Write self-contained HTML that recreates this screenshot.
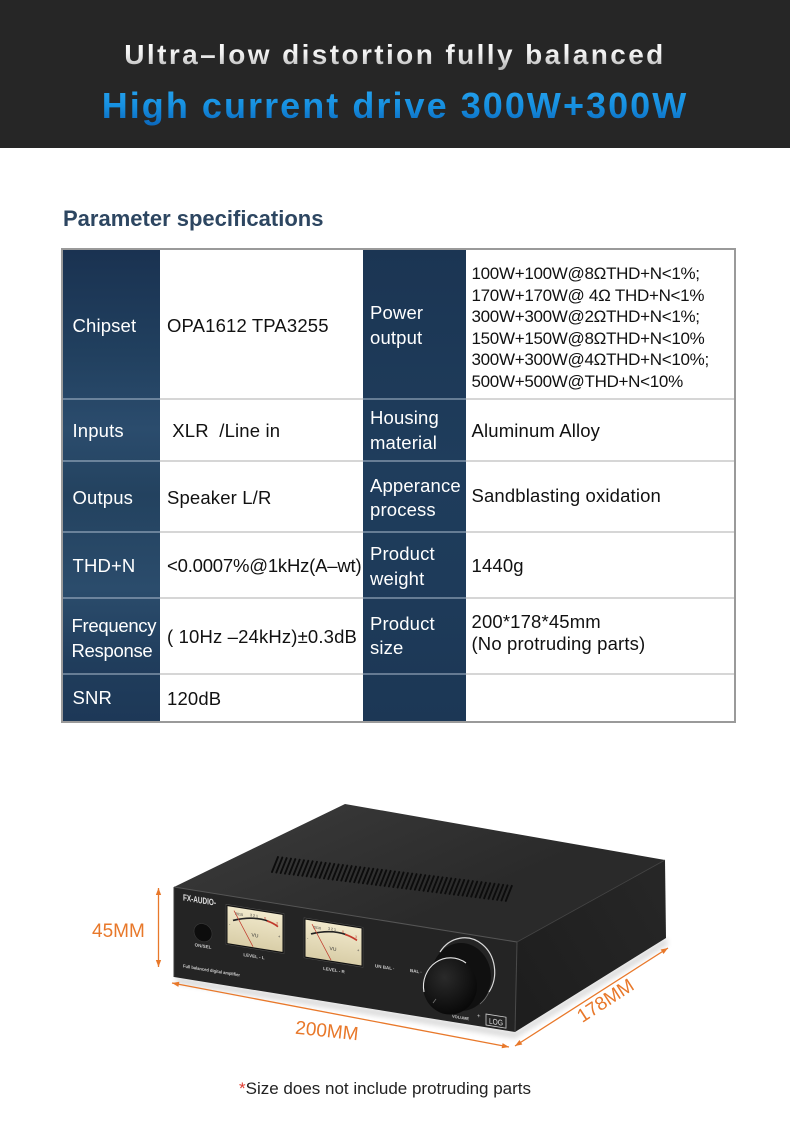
<!DOCTYPE html>
<html>
<head>
<meta charset="utf-8">
<style>
*{margin:0;padding:0;box-sizing:border-box;}
html,body{width:790px;height:1132px;background:#fff;overflow:hidden;}
body{position:relative;font-family:"Liberation Sans",Arial,sans-serif;}
.abs{position:absolute;}
.hdr{left:0;top:0;width:790px;height:148px;background:#262626;}
.h1,.h2{left:0;width:790px;text-align:center;font-weight:bold;white-space:nowrap;}
.h1{top:38px;height:34px;line-height:34px;font-size:28px;letter-spacing:2.4px;
  background:linear-gradient(180deg,#ffffff 0%,#f2f2f2 45%,#a9a9a9 100%);
  -webkit-background-clip:text;background-clip:text;color:transparent;}
.h2{top:84px;height:44px;line-height:44px;font-size:36px;letter-spacing:2.05px;
  background:linear-gradient(180deg,#2aa6f0 0%,#1690e0 50%,#0a62b8 100%);
  -webkit-background-clip:text;background-clip:text;color:transparent;}
.title{left:63px;top:208px;line-height:22px;font-size:22px;font-weight:bold;color:#2d4661;white-space:nowrap;}
.tbl{left:61px;top:248px;width:675px;height:475px;border:2px solid #9a9a9a;background:#fff;}
.hl{height:2px;background:#d6d6d6;left:63px;width:671px;}
.b1{left:63px;top:250px;width:97px;height:471px;
  background:linear-gradient(180deg,#1a3251 0%,#21405f 22%,#2b4c6d 38%,#23425f 52%,#2b4c6c 72%,#203d5c 88%,#1d3857 100%);}
.b2{left:363px;top:250px;width:103px;height:471px;
  background:linear-gradient(180deg,#1b3553 0%,#1f3d5c 45%,#1e3b5a 70%,#1c3755 100%);}
.bl{height:2px;background:rgba(190,205,220,0.45);}
.c{position:absolute;display:flex;align-items:center;font-size:18.5px;letter-spacing:0.15px;white-space:pre;line-height:24.5px;}
.lab{color:#fff;}
.val{color:#111;}
.pw{left:471.5px;top:263px;font-size:17px;letter-spacing:-0.3px;line-height:21.5px;color:#111;white-space:pre;}
.foot{left:239px;top:1079px;font-size:17px;line-height:20px;color:#222;white-space:nowrap;}
.foot span{color:#e03a2f;}
</style>
</head>
<body>
<div class="abs hdr"></div>
<div class="abs h1">Ultra–low distortion fully balanced</div>
<div class="abs h2">High current drive 300W+300W</div>

<div class="abs title">Parameter specifications</div>

<div class="abs tbl"></div>
<div class="abs hl" style="top:398px"></div>
<div class="abs hl" style="top:460px"></div>
<div class="abs hl" style="top:531px"></div>
<div class="abs hl" style="top:597px"></div>
<div class="abs hl" style="top:673px"></div>
<div class="abs b1"></div>
<div class="abs b2"></div>
<div class="abs bl" style="left:63px;width:97px;top:398px"></div>
<div class="abs bl" style="left:63px;width:97px;top:460px"></div>
<div class="abs bl" style="left:63px;width:97px;top:531px"></div>
<div class="abs bl" style="left:63px;width:97px;top:597px"></div>
<div class="abs bl" style="left:63px;width:97px;top:673px"></div>
<div class="abs bl" style="left:363px;width:103px;top:398px"></div>
<div class="abs bl" style="left:363px;width:103px;top:460px"></div>
<div class="abs bl" style="left:363px;width:103px;top:531px"></div>
<div class="abs bl" style="left:363px;width:103px;top:597px"></div>
<div class="abs bl" style="left:363px;width:103px;top:673px"></div>

<!-- Row 1 -->
<div class="c lab" style="left:63px;top:250px;width:97px;height:148px;padding-left:9.5px;padding-top:4px">Chipset</div>
<div class="c val" style="left:160px;top:250px;width:203px;height:148px;padding-left:7px;padding-top:4px">OPA1612 TPA3255</div>
<div class="c lab" style="left:363px;top:250px;width:103px;height:148px;padding-left:7px;padding-top:3px">Power
output</div>
<div class="abs pw">100W+100W@8ΩTHD+N&lt;1%;
170W+170W@ 4Ω THD+N&lt;1%
300W+300W@2ΩTHD+N&lt;1%;
150W+150W@8ΩTHD+N&lt;10%
300W+300W@4ΩTHD+N&lt;10%;
500W+500W@THD+N&lt;10%</div>

<!-- Row 2 -->
<div class="c lab" style="left:63px;top:400px;width:97px;height:60px;padding-left:9.5px;padding-top:3px">Inputs</div>
<div class="c val" style="left:160px;top:400px;width:203px;height:60px;padding-left:7px;padding-top:3px"> XLR  /Line in</div>
<div class="c lab" style="left:363px;top:400px;width:103px;height:60px;padding-left:7px;padding-top:1px">Housing
material</div>
<div class="c val" style="left:466px;top:400px;width:268px;height:60px;padding-left:5.5px;padding-top:3px">Aluminum Alloy</div>

<!-- Row 3 -->
<div class="c lab" style="left:63px;top:462px;width:97px;height:69px;padding-left:9.5px;padding-top:3px">Outpus</div>
<div class="c val" style="left:160px;top:462px;width:203px;height:69px;padding-left:7px;padding-top:3px">Speaker L/R</div>
<div class="c lab" style="left:363px;top:462px;width:103px;height:69px;padding-left:7px;padding-top:3px">Apperance
process</div>
<div class="c val" style="left:466px;top:462px;width:268px;height:69px;padding-left:5.5px;padding-top:0px">Sandblasting oxidation</div>

<!-- Row 4 -->
<div class="c lab" style="left:63px;top:533px;width:97px;height:64px;padding-left:9.5px;padding-top:3px">THD+N</div>
<div class="c val" style="left:160px;top:533px;width:203px;height:64px;padding-left:7px;padding-top:3px;letter-spacing:-0.2px">&lt;0.0007%@1kHz(A–wt)</div>
<div class="c lab" style="left:363px;top:533px;width:103px;height:64px;padding-left:7px;padding-top:3px">Product
weight</div>
<div class="c val" style="left:466px;top:533px;width:268px;height:64px;padding-left:5.5px;padding-top:3px">1440g</div>

<!-- Row 5 -->
<div class="c lab" style="left:63px;top:599px;width:97px;height:74px;padding-left:8.5px;padding-top:5px;letter-spacing:-0.3px">Frequency
Response</div>
<div class="c val" style="left:160px;top:599px;width:203px;height:74px;padding-left:7px;padding-top:3px">( 10Hz –24kHz)±0.3dB</div>
<div class="c lab" style="left:363px;top:599px;width:103px;height:74px;padding-left:7px;padding-top:0px">Product
size</div>
<div class="c val" style="left:466px;top:599px;width:268px;height:74px;padding-left:5.5px;padding-bottom:6px;line-height:22px">200*178*45mm
(No protruding parts)</div>

<!-- Row 6 -->
<div class="c lab" style="left:63px;top:675px;width:97px;height:46px;padding-left:9.5px;padding-top:0px">SNR</div>
<div class="c val" style="left:160px;top:675px;width:203px;height:46px;padding-left:7px;padding-top:3px">120dB</div>

<!-- Product illustration -->
<svg class="abs" style="left:0;top:780px" width="790" height="300" viewBox="0 780 790 300" xmlns="http://www.w3.org/2000/svg">
  <defs>
    <linearGradient id="topg" x1="345" y1="804" x2="400" y2="930" gradientUnits="userSpaceOnUse">
      <stop offset="0" stop-color="#363636"/>
      <stop offset="1" stop-color="#2a2a2a"/>
    </linearGradient>
    <linearGradient id="sideg" x1="515" y1="990" x2="666" y2="900" gradientUnits="userSpaceOnUse">
      <stop offset="0" stop-color="#1e1e1e"/>
      <stop offset="1" stop-color="#262626"/>
    </linearGradient>
    <linearGradient id="cream" x1="0" y1="0" x2="0" y2="1">
      <stop offset="0" stop-color="#f1e9cc"/>
      <stop offset="1" stop-color="#d9cea8"/>
    </linearGradient>
    <radialGradient id="knobg" cx="0.4" cy="0.35" r="0.7">
      <stop offset="0" stop-color="#2a2a2a"/>
      <stop offset="1" stop-color="#070707"/>
    </radialGradient>
    <filter id="blur" x="-20%" y="-50%" width="140%" height="200%"><feGaussianBlur stdDeviation="3"/></filter>
    <marker id="ah" viewBox="0 0 10 10" refX="10" refY="5" markerWidth="9" markerHeight="7" orient="auto-start-reverse" markerUnits="userSpaceOnUse">
      <path d="M0 1.2 L10 5 L0 8.8 z" fill="#e8782a"/>
    </marker>
  </defs>

  <!-- shadow -->
  <polygon points="176,977 515,1032 666,938 668,944 515,1038 176,983" fill="#000" opacity="0.16" filter="url(#blur)"/>

  <!-- top face -->
  <polygon points="174,887 345,804 665,860 517,942" fill="url(#topg)"/>
  <!-- right side -->
  <polygon points="517,942 665,860 666,938 515,1032" fill="url(#sideg)"/>
  <!-- front panel -->
  <polygon points="174,887 517,942 515,1032 174,977" fill="#242424"/>
  <line x1="174" y1="887" x2="517" y2="942" stroke="#555" stroke-width="1"/>
  <line x1="517" y1="942" x2="515" y2="1032" stroke="#4a4a4a" stroke-width="1"/>
  <line x1="174" y1="887" x2="174" y2="977" stroke="#3c3c3c" stroke-width="1"/>
  <line x1="517" y1="942" x2="665" y2="860" stroke="#444" stroke-width="0.8"/>

  <!-- vent slots -->
  <path d="M272 872l6-15m-1.67 15.535l6-15m-1.67 15.535l6-15m-1.67 15.535l6-15m-1.67 15.535l6-15m-1.67 15.535l6-15m-1.67 15.535l6-15m-1.67 15.535l6-15m-1.67 15.535l6-15m-1.67 15.535l6-15m-1.67 15.535l6-15m-1.67 15.535l6-15m-1.67 15.535l6-15m-1.67 15.535l6-15m-1.67 15.535l6-15m-1.67 15.535l6-15m-1.67 15.535l6-15m-1.67 15.535l6-15m-1.67 15.535l6-15m-1.67 15.535l6-15m-1.67 15.535l6-15m-1.67 15.535l6-15m-1.67 15.535l6-15m-1.67 15.535l6-15m-1.67 15.535l6-15m-1.67 15.535l6-15m-1.67 15.535l6-15m-1.67 15.535l6-15m-1.67 15.535l6-15m-1.67 15.535l6-15m-1.67 15.535l6-15m-1.67 15.535l6-15m-1.67 15.535l6-15m-1.67 15.535l6-15m-1.67 15.535l6-15m-1.67 15.535l6-15m-1.67 15.535l6-15m-1.67 15.535l6-15m-1.67 15.535l6-15m-1.67 15.535l6-15m-1.67 15.535l6-15m-1.67 15.535l6-15m-1.67 15.535l6-15m-1.67 15.535l6-15m-1.67 15.535l6-15m-1.67 15.535l6-15m-1.67 15.535l6-15m-1.67 15.535l6-15m-1.67 15.535l6-15m-1.67 15.535l6-15m-1.67 15.535l6-15m-1.67 15.535l6-15m-1.67 15.535l6-15m-1.67 15.535l6-15m-1.67 15.535l6-15" stroke="#0c0c0c" stroke-width="1.9" stroke-linecap="round" fill="none"/>

  <!-- front panel contents (skewed plane) -->
  <g transform="matrix(1,0.1603,0,1,174,887)" font-family="Liberation Sans, Arial, sans-serif">
    <text x="9" y="12" font-size="9" font-weight="bold" fill="#e0e0e0" textLength="33" lengthAdjust="spacingAndGlyphs">FX-AUDIO-</text>
    <circle cx="29" cy="41" r="9" fill="#0d0d0d" stroke="#3a3a3a" stroke-width="0.6"/>
    <text x="29" y="56" font-size="4.5" font-weight="bold" fill="#c8c8c8" text-anchor="middle">ON/SEL</text>

    <!-- VU L -->
    <g transform="translate(52,9)">
      <rect x="0" y="0" width="58" height="40" fill="#111" stroke="#555" stroke-width="0.5"/>
      <rect x="1.5" y="1.5" width="55" height="37" fill="url(#cream)"/>
      <path d="M7 15 Q27 7 42 10" stroke="#222" stroke-width="1.6" fill="none"/>
      <path d="M41 10 Q47 11 52 14" stroke="#c0392b" stroke-width="1.8" fill="none"/>
      <text x="9" y="9" font-size="3.6" fill="#333">2010</text>
      <text x="24" y="8" font-size="3.6" fill="#333">3 2 1</text>
      <text x="38" y="9" font-size="3.6" fill="#c0392b">0</text>
      <text x="50" y="12" font-size="3.6" fill="#c0392b">3</text>
      <text x="29" y="28" font-size="5" fill="#333" text-anchor="middle">VU</text>
      <text x="3" y="21" font-size="4" fill="#333">-</text>
      <text x="52" y="25" font-size="4" fill="#333">+</text>
      <line x1="8" y1="5" x2="27" y2="38" stroke="#c0392b" stroke-width="0.8"/>
    </g>
    <text x="80" y="58" font-size="4.5" font-weight="bold" fill="#c8c8c8" text-anchor="middle">LEVEL - L</text>

    <!-- VU R -->
    <g transform="translate(130,10)">
      <rect x="0" y="0" width="59" height="40" fill="#111" stroke="#555" stroke-width="0.5"/>
      <rect x="1.5" y="1.5" width="56" height="37" fill="url(#cream)"/>
      <path d="M7 15 Q27 7 42 10" stroke="#222" stroke-width="1.6" fill="none"/>
      <path d="M41 10 Q47 11 53 14" stroke="#c0392b" stroke-width="1.8" fill="none"/>
      <text x="9" y="9" font-size="3.6" fill="#333">2010</text>
      <text x="24" y="8" font-size="3.6" fill="#333">3 2 1</text>
      <text x="38" y="9" font-size="3.6" fill="#c0392b">0</text>
      <text x="51" y="12" font-size="3.6" fill="#c0392b">3</text>
      <text x="29" y="28" font-size="5" fill="#333" text-anchor="middle">VU</text>
      <text x="3" y="21" font-size="4" fill="#333">-</text>
      <text x="53" y="25" font-size="4" fill="#333">+</text>
      <line x1="8" y1="5" x2="27" y2="38" stroke="#c0392b" stroke-width="0.8"/>
    </g>
    <text x="160" y="59" font-size="4.5" font-weight="bold" fill="#c8c8c8" text-anchor="middle">LEVEL - R</text>

    <text x="9" y="79" font-size="4.5" font-weight="bold" fill="#cfcfcf" textLength="57" lengthAdjust="spacingAndGlyphs">Full balanced digital amplifier</text>
    <text x="201" y="48" font-size="4.5" font-weight="bold" fill="#cfcfcf">UN BAL ·</text>
    <text x="236" y="47" font-size="4.5" font-weight="bold" fill="#cfcfcf">BAL ·</text>
    <text x="278" y="86" font-size="4" font-weight="bold" fill="#cfcfcf">VOLUME</text>
    <text x="303" y="82" font-size="6" fill="#cfcfcf">+</text>
    <rect x="312" y="77" width="20" height="11" fill="none" stroke="#cfcfcf" stroke-width="0.8"/>
    <text x="322" y="86" font-size="8" fill="#e0e0e0" text-anchor="middle" textLength="14" lengthAdjust="spacingAndGlyphs">LOG</text>
  </g>

  <!-- knob -->
  <ellipse cx="461" cy="977" rx="30" ry="34" fill="#101010"/>
  <path d="M440 952 A30 34 0 0 1 489 992" stroke="#d8d8d8" stroke-width="1.2" fill="none"/>
  <path d="M489 992 A30 34 0 0 1 480 1004" stroke="#777" stroke-width="0.8" fill="none"/>
  <ellipse cx="450" cy="986" rx="27" ry="28.5" fill="url(#knobg)"/>
  <path d="M424 992 A27 28.5 0 0 1 466 963" stroke="#e6e6e6" stroke-width="1.1" fill="none"/>
  <line x1="433" y1="1003" x2="436" y2="999" stroke="#777" stroke-width="0.8"/>

  <!-- dimension lines -->
  <line x1="158.5" y1="888" x2="158.5" y2="967" stroke="#e8782a" stroke-width="1.3" marker-start="url(#ah)" marker-end="url(#ah)"/>
  <line x1="172" y1="983" x2="509" y2="1047" stroke="#e8782a" stroke-width="1.3" marker-start="url(#ah)" marker-end="url(#ah)"/>
  <line x1="515" y1="1046" x2="668" y2="948" stroke="#e8782a" stroke-width="1.3" marker-start="url(#ah)" marker-end="url(#ah)"/>

  <text x="92" y="937" font-size="19" fill="#e8782a" font-family="Liberation Sans, Arial, sans-serif">45MM</text>
  <text x="327" y="1037" font-size="19" fill="#e8782a" font-family="Liberation Sans, Arial, sans-serif" text-anchor="middle" transform="rotate(6 327 1030)">200MM</text>
  <text x="605" y="1007" font-size="19" fill="#e8782a" font-family="Liberation Sans, Arial, sans-serif" text-anchor="middle" transform="rotate(-33 605 1000)">178MM</text>
</svg>

<div class="abs foot"><span>*</span>Size does not include protruding parts</div>
</body>
</html>
